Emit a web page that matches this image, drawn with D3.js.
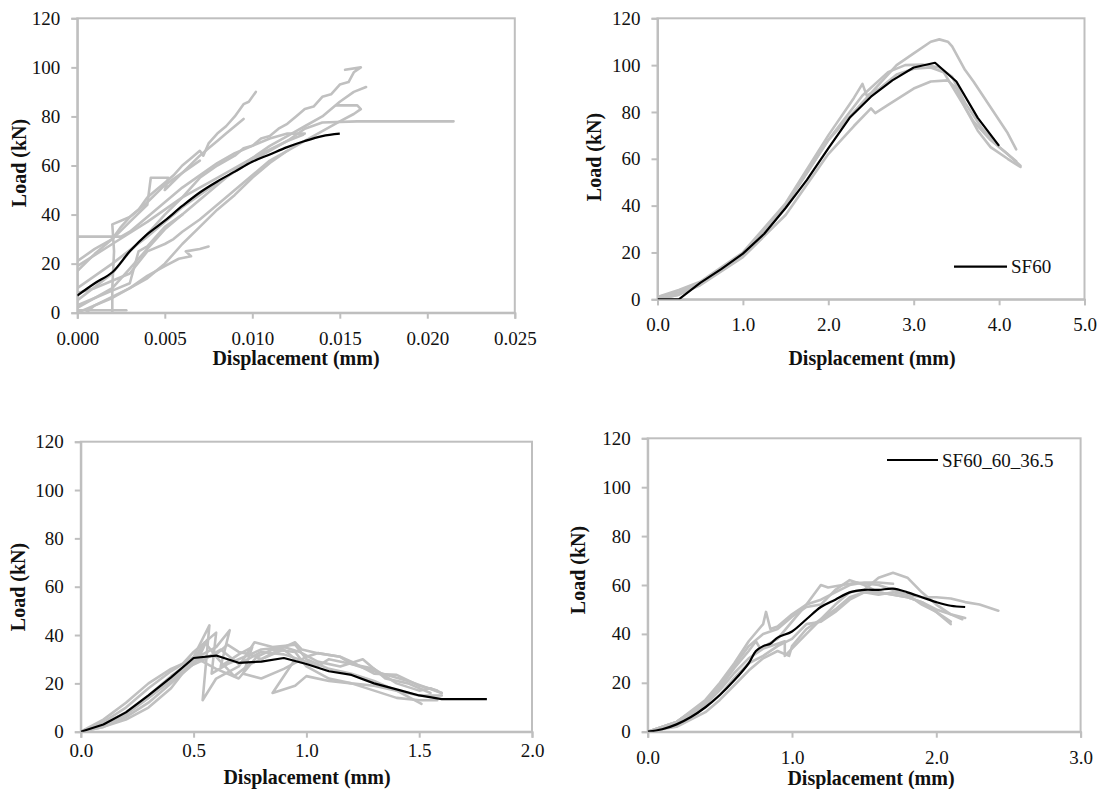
<!DOCTYPE html>
<html><head><meta charset="utf-8">
<script src="https://cdn.jsdelivr.net/npm/d3@7"></script>
<style>body{margin:0;background:#fff}svg{display:block}text{font-family:"Liberation Serif","Times New Roman",Times,serif}</style>
</head><body>
<svg id="c" width="1103" height="789"></svg>
<script>
// ---------- DATA ----------
const yTicks = [0, 20, 40, 60, 80, 100, 120];
const p1XTicks = [0, 0.005, 0.010, 0.015, 0.020, 0.025];
const p2XTicks = [0, 1, 2, 3, 4, 5];
const p3XTicks = [0, 0.5, 1.0, 1.5, 2.0];
const p4XTicks = [0, 1, 2, 3];

const p1Mean = [[0,7],[0.001,12],[0.002,16.5],[0.003,25],[0.004,32],[0.005,37.5],[0.006,43.5],[0.007,49],[0.008,53.5],[0.009,57.5],[0.010,61.5],[0.011,64.5],[0.012,67.5],[0.013,70],[0.014,72],[0.015,73]];
const p1Gray = [
  [[0,17],[0.001,24],[0.002,30],[0.0025,35],[0.003,39],[0.0035,42],[0.004,47],[0.0045,50],[0.005,53],[0.0055,56],[0.006,60],[0.0065,63],[0.007,66],[0.0072,64],[0.0075,69],[0.008,73],[0.0085,76],[0.009,80],[0.0095,85],[0.0098,86],[0.0102,90]],
  [[0,21],[0.001,26],[0.002,30],[0.003,37],[0.004,44],[0.0042,55],[0.0052,55],[0.005,50],[0.006,57],[0.007,64],[0.0075,67],[0.008,70],[0.0085,73],[0.009,76],[0.0095,79]],
  [[0,5],[0.002,16],[0.003,25],[0.004,32],[0.005,40],[0.006,47],[0.007,55],[0.008,60],[0.009,64],[0.0095,67],[0.010,68],[0.0105,71],[0.011,72],[0.0115,75],[0.012,77],[0.0125,80],[0.013,83],[0.0135,84],[0.014,88],[0.0145,89],[0.015,93],[0.0155,94],[0.0158,98],[0.0162,100],[0.0153,99]],
  [[0,2],[0.002,10],[0.003,18],[0.004,26],[0.005,34],[0.006,40],[0.007,46],[0.008,52],[0.009,58],[0.010,63],[0.011,68],[0.012,72],[0.013,76],[0.014,80],[0.015,86],[0.0158,90],[0.0165,92]],
  [[0.0005,0],[0.001,3],[0.003,10],[0.004,14],[0.005,20],[0.006,28],[0.007,35],[0.008,42],[0.009,48],[0.010,55],[0.011,61],[0.012,66],[0.013,70],[0.014,74],[0.015,78],[0.0158,81],[0.0162,83],[0.016,84.5],[0.0148,84.5]],
  [[0,10],[0.002,20],[0.004,31],[0.006,43],[0.008,53],[0.010,62],[0.012,70],[0.013,75],[0.014,77.5],[0.016,78],[0.0215,78]],
  [[0,19],[0.002,28],[0.004,37],[0.006,47],[0.008,55],[0.010,63],[0.012,70],[0.0129,72.5]],
  [[0,0],[0.002,6],[0.003,10],[0.004,15],[0.005,19],[0.0058,22],[0.0065,23],[0.0062,25],[0.007,26],[0.0075,27]],
  [[0,31],[0.0025,31],[0.003,33],[0.004,39],[0.005,45],[0.006,51],[0.007,56],[0.008,61],[0.009,65],[0.010,68],[0.011,71],[0.012,73],[0.013,73]],
  [[0.002,0],[0.002,10],[0.0021,25],[0.002,36],[0.003,39],[0.004,45],[0.005,52],[0.006,57],[0.007,62]],
  [[0,1],[0.0028,1]],
  [[0,8],[0.001,10],[0.002,13],[0.003,16],[0.004,25],[0.005,28],[0.0055,30],[0.006,33],[0.007,38],[0.008,44],[0.009,50],[0.010,56],[0.011,62],[0.012,66]],
  [[0,3],[0.001,6],[0.002,9],[0.003,12],[0.0035,25],[0.004,27],[0.005,35],[0.006,40]]
];

const p2Mean = [[0,0],[0.25,0],[0.5,7],[0.75,13],[1.0,19.5],[1.25,28],[1.5,39],[1.75,51],[2.0,64.5],[2.25,77.5],[2.5,86.5],[2.75,93.5],[3.0,99],[3.25,101],[3.5,93],[3.75,77.5],[4.0,65.5]];
const p2Gray = [
  [[0,1],[0.25,3],[0.5,7],[1.0,19],[1.5,40],[2.0,68],[2.5,88],[2.8,100],[3.0,105],[3.2,110],[3.3,111],[3.4,110],[3.45,108],[3.6,98],[3.7,93],[3.9,82],[4.1,71],[4.2,64]],
  [[0,0],[0.25,2],[0.5,7],[1.0,19],[1.5,40],[2.0,68],[2.4,87],[2.7,97],[2.9,100],[3.1,100.3],[3.3,99],[3.45,95],[3.6,84],[3.8,73],[4.0,65],[4.2,59]],
  [[0,1],[0.25,4],[0.5,7.5],[1.0,20],[1.5,41],[2.0,70],[2.3,86],[2.4,92],[2.45,87],[2.6,90],[2.8,96],[3.0,98.5],[3.2,99],[3.35,97],[3.5,88],[3.7,76],[3.9,68],[4.1,62],[4.25,57]],
  [[0,0],[0.25,2],[0.5,6],[1.0,18],[1.5,36],[2.0,62],[2.3,74],[2.5,81.5],[2.55,79.5],[2.7,83],[3.0,90],[3.2,93],[3.4,93.5],[3.5,90],[3.6,82],[3.75,72],[3.9,65],[4.1,60],[4.25,56.5]]
];

const p3Mean = [[0,0],[0.1,3],[0.2,8],[0.3,15],[0.4,22.5],[0.5,30.5],[0.6,31.5],[0.7,28.5],[0.8,29],[0.9,30.5],[1.0,28],[1.1,25],[1.2,23.5],[1.3,20],[1.4,17.5],[1.5,15],[1.6,13.5],[1.8,13.5]];
const p3Gray = [
  [[0,0],[0.1,4],[0.2,10],[0.3,18],[0.4,25],[0.5,31],[0.57,44],[0.54,13],[0.6,22],[0.7,27],[0.77,37],[0.85,35],[0.95,36],[1.0,30],[1.1,26],[1.2,24],[1.3,21],[1.4,17],[1.5,12],[1.51,11.5]],
  [[0,0],[0.1,5],[0.2,12],[0.3,20],[0.4,26],[0.45,28],[0.5,33],[0.6,41],[0.58,24],[0.65,28],[0.7,30],[0.8,34],[0.9,35],[0.95,37],[0.98,34],[1.05,32.5],[1.15,31],[1.2,29],[1.3,24],[1.4,23.5],[1.5,19],[1.58,17]],
  [[0,0],[0.1,3],[0.2,7],[0.3,14],[0.4,22],[0.5,30],[0.6,35],[0.66,42],[0.62,27],[0.7,32],[0.76,35],[0.72,24],[0.8,22],[0.9,26],[1.0,31],[1.05,32.5],[1.15,31],[1.2,28],[1.3,25],[1.45,21],[1.6,16]],
  [[0,0],[0.1,3],[0.2,8],[0.3,15],[0.4,23],[0.5,30],[0.55,37],[0.6,31],[0.68,23],[0.75,28],[0.85,32],[0.9,34],[0.95,30],[0.85,16],[0.95,19],[1.0,23],[1.1,21],[1.2,20],[1.3,17],[1.4,14],[1.5,13],[1.58,13]],
  [[0,0],[0.1,2],[0.2,6],[0.3,12],[0.4,20],[0.5,28],[0.56,38],[0.52,30],[0.6,26],[0.7,22],[0.78,31],[0.85,34],[0.95,33],[1.0,27],[1.1,22],[1.2,20],[1.3,19],[1.4,17],[1.5,15],[1.6,15]],
  [[0,0],[0.1,3],[0.2,8],[0.3,14],[0.4,21],[0.48,27],[0.55,30],[0.62,34],[0.7,28],[0.8,33],[0.9,32],[1.0,29],[1.05,27],[1.1,30],[1.2,28],[1.3,26],[1.4,20],[1.5,17],[1.55,18],[1.6,16]],
  [[0,0],[0.1,2],[0.2,5],[0.3,10],[0.4,18],[0.45,24],[0.5,29],[0.6,32],[0.65,36],[0.7,33],[0.75,32],[0.8,30],[0.9,35],[0.97,33],[1.05,29],[1.15,27],[1.25,30],[1.35,22],[1.45,20],[1.55,16]]
];

const p4Mean = [[0,0],[0.1,1],[0.2,3],[0.3,6],[0.4,10],[0.5,15],[0.6,21],[0.7,28],[0.75,33],[0.8,35],[0.85,36],[0.9,38.5],[1.0,41],[1.1,46],[1.2,51],[1.3,54],[1.4,57],[1.5,58],[1.6,58],[1.7,58.5],[1.8,57],[1.9,55],[2.0,53],[2.1,51.5],[2.2,51]];
const p4Gray = [
  [[0,0],[0.2,4],[0.4,13],[0.5,20],[0.6,28],[0.7,37],[0.8,44],[0.82,49],[0.85,42],[0.9,43],[1.0,48],[1.1,52],[1.2,54],[1.3,57],[1.4,60],[1.5,61],[1.6,61],[1.7,60.5]],
  [[0,0],[0.2,4],[0.4,12],[0.5,18],[0.6,26],[0.7,33],[0.75,37],[0.78,34],[0.9,38],[1.0,45],[1.1,52],[1.2,60],[1.25,59],[1.35,60],[1.45,61],[1.6,60],[1.8,56],[1.9,52],[2.0,49],[2.1,44]],
  [[0,0],[0.2,3],[0.4,11],[0.5,17],[0.6,24],[0.7,30],[0.8,34],[0.9,36],[0.95,37],[0.95,31],[1.0,34],[1.1,40],[1.2,46],[1.3,52],[1.4,57],[1.5,58],[1.6,63],[1.7,65],[1.8,63],[1.9,57],[2.0,52],[2.1,48],[2.18,46]],
  [[0,0],[0.2,2],[0.4,8],[0.5,13],[0.6,19],[0.7,25],[0.8,30],[0.9,33],[0.98,31],[1.0,35],[1.1,42],[1.2,46],[1.3,50],[1.4,55],[1.5,57],[1.6,56],[1.7,57],[1.8,56],[1.9,55],[2.0,55],[2.1,54.5],[2.2,53],[2.3,52],[2.43,49.5]],
  [[0,0],[0.2,3],[0.4,10],[0.5,15],[0.6,22],[0.7,28],[0.8,31],[0.9,35],[1.0,38],[1.1,44],[1.2,45],[1.3,49],[1.4,54],[1.5,57],[1.6,57],[1.7,56],[1.8,55],[1.9,53],[2.0,50],[2.1,48],[2.2,46.5]],
  [[0,0],[0.2,4],[0.4,12],[0.5,19],[0.6,27],[0.7,35],[0.8,40],[0.9,42],[1.0,47],[1.1,51],[1.2,52],[1.3,58],[1.4,62],[1.5,60],[1.6,57],[1.7,56],[1.8,55],[1.9,53],[2.0,49],[2.1,45]]
];

const legend2 = "SF60";
const legend4 = "SF60_60_36.5";
const xTitle = "Displacement (mm)";
const yTitle = "Load (kN)";

// ---------- DRAW ----------
const svg = d3.select("#c");
const AX = "#bfbfbf", GR = "#c0c0c0", FONT = "Liberation Serif, Times New Roman, Times, serif";

const panels = [
  {l:77.3, r:514.8, t:18.3, b:312.7, xd:[0,0.025], xt:p1XTicks, fmt:d3.format(".3f"), mean:p1Mean, gray:p1Gray, smooth:true,
   xtY:338, xtitle:[296,358], ytitle:[19,163]},
  {l:657.5, r:1084.5, t:18.3, b:299.3, xd:[0,5], xt:p2XTicks, fmt:d3.format(".1f"), mean:p2Mean, gray:p2Gray, smooth:false,
   xtY:324, xtitle:[872,358], ytitle:[594,157], legend:{x1:954,x2:1007,y:266.7,text:legend2}},
  {l:80.8, r:532, t:441.7, b:731.7, xd:[0,2], xt:p3XTicks, fmt:d3.format(".1f"), mean:p3Mean, gray:p3Gray, smooth:false,
   xtY:750, xtitle:[307,777], ytitle:[18,587]},
  {l:647.7, r:1080.6, t:438.3, b:731.7, xd:[0,3], xt:p4XTicks, fmt:d3.format(".1f"), mean:p4Mean, gray:p4Gray, smooth:true,
   xtY:757, xtitle:[871,778], ytitle:[578,570], legend:{x1:887,x2:938,y:460,text:legend4}}
];

panels.forEach((p, i) => {
  const x = d3.scaleLinear().domain(p.xd).range([p.l, p.r]);
  const y = d3.scaleLinear().domain([0,120]).range([p.b, p.t]);
  const g = svg.append("g");
  const cid = "clip" + i;
  svg.append("clipPath").attr("id", cid).append("rect")
    .attr("x", p.l).attr("y", p.t - 2).attr("width", p.r - p.l).attr("height", p.b - p.t + 2);

  g.append("rect").attr("x", p.l).attr("y", p.t).attr("width", p.r - p.l).attr("height", p.b - p.t)
    .attr("fill", "none").attr("stroke", AX).attr("stroke-width", 2);

  const ya = d3.axisLeft(y).tickValues(yTicks).tickSize(6).tickPadding(11).tickFormat(d3.format("d"));
  const yg = g.append("g").attr("transform", `translate(${p.l},0)`).call(ya);
  const xa = d3.axisBottom(x).tickValues(p.xt).tickSize(6).tickFormat(p.fmt);
  const xg = g.append("g").attr("transform", `translate(0,${p.b})`).call(xa);
  [yg, xg].forEach(a => {
    a.attr("font-family", FONT).attr("font-size", 19);
    a.select(".domain").attr("stroke", AX).attr("stroke-width", 2);
    a.selectAll(".tick line").attr("stroke", AX).attr("stroke-width", 2);
    a.selectAll(".tick text").attr("fill", "#111").attr("font-family", FONT).attr("font-size", 19);
  });
  xg.selectAll(".tick text").attr("y", null).attr("dy", null)
    .attr("dominant-baseline", "central").attr("transform", `translate(0,${p.xtY - p.b})`);

  const line = d3.line().x(d => x(d[0])).y(d => y(d[1]));
  const dg = g.append("g").attr("clip-path", `url(#${cid})`);
  p.gray.forEach(s => {
    dg.append("path").attr("d", line(s)).attr("fill", "none").attr("stroke", GR)
      .attr("stroke-width", 2.6).attr("stroke-linejoin", "round").attr("stroke-linecap", "round");
  });
  const mline = d3.line().x(d => x(d[0])).y(d => y(d[1]))
    .curve(p.smooth ? d3.curveCatmullRom.alpha(0.5) : d3.curveLinear);
  dg.append("path").attr("d", mline(p.mean)).attr("fill", "none").attr("stroke", "#000")
    .attr("stroke-width", 2.2).attr("stroke-linejoin", "round");

  g.append("text").attr("x", p.xtitle[0]).attr("y", p.xtitle[1]).attr("text-anchor", "middle")
    .attr("dominant-baseline", "central").attr("font-family", FONT).attr("font-weight", "bold")
    .attr("font-size", 20).attr("fill", "#111").text(xTitle);
  g.append("text").attr("transform", `translate(${p.ytitle[0]},${p.ytitle[1]}) rotate(-90)`)
    .attr("text-anchor", "middle").attr("dominant-baseline", "central").attr("font-family", FONT)
    .attr("font-weight", "bold").attr("font-size", 20).attr("fill", "#111").text(yTitle);

  if (p.legend) {
    g.append("line").attr("x1", p.legend.x1).attr("x2", p.legend.x2).attr("y1", p.legend.y).attr("y2", p.legend.y)
      .attr("stroke", "#000").attr("stroke-width", 2.2);
    g.append("text").attr("x", p.legend.x2 + 4).attr("y", p.legend.y).attr("dominant-baseline", "central")
      .attr("font-family", FONT).attr("font-size", 19).attr("fill", "#111").text(p.legend.text);
  }
});
</script>
</body></html>
